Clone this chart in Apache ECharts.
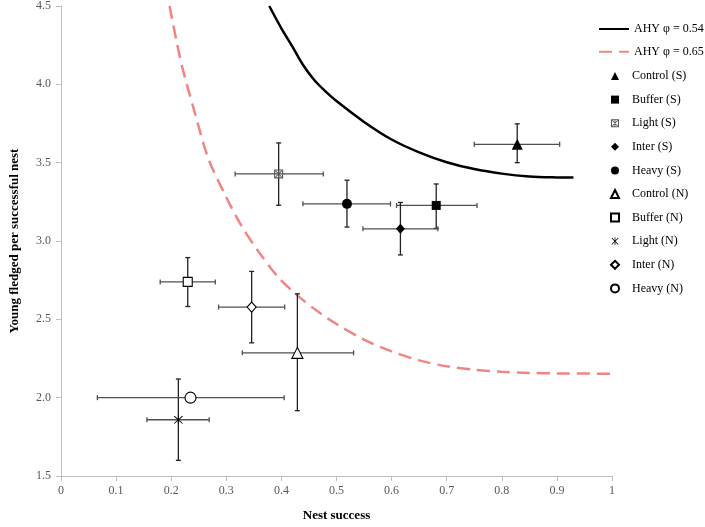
<!DOCTYPE html>
<html>
<head>
<meta charset="utf-8">
<script src="https://cdn.jsdelivr.net/npm/echarts@6/dist/echarts.min.js"></script>
<style>
html,body{margin:0;padding:0;background:#fff;}
#chart{width:705px;height:527px;}
</style>
</head>
<body>
<div id="chart"></div>
<script>
// ---- data ----
var groupNames = ['Control (S)', 'Buffer (S)', 'Light (S)', 'Inter (S)', 'Heavy (S)',
                  'Control (N)', 'Buffer (N)', 'Light (N)', 'Inter (N)', 'Heavy (N)'];
var nestSuccess = [0.828, 0.681, 0.395, 0.616, 0.519, 0.429, 0.230, 0.213, 0.346, 0.235];
var youngFledged = [3.617, 3.227, 3.428, 3.078, 3.237, 2.286, 2.739, 1.859, 2.578, 2.000];
var nestLow  = [0.750, 0.609, 0.316, 0.548, 0.439, 0.329, 0.180, 0.156, 0.286, 0.066];
var nestHigh = [0.905, 0.755, 0.476, 0.684, 0.598, 0.531, 0.280, 0.269, 0.406, 0.405];
var youngLow  = [3.500, 3.080, 3.228, 2.911, 3.089, 1.917, 2.582, 1.600, 2.350, 2.000];
var youngHigh = [3.748, 3.364, 3.626, 3.246, 3.388, 2.663, 2.894, 2.119, 2.806, 2.000];

var curve054X = [0.378, 0.40, 0.42, 0.44, 0.46, 0.48, 0.50, 0.55, 0.60, 0.65, 0.70, 0.75, 0.80, 0.85, 0.90, 0.93];
var curve054Y = [4.50, 4.357, 4.24, 4.12, 4.026, 3.955, 3.893, 3.76, 3.648, 3.566, 3.503, 3.459, 3.43, 3.412, 3.406, 3.405];
var curve065X = [0.197, 0.21, 0.22, 0.24, 0.267, 0.297, 0.327, 0.358, 0.394, 0.43, 0.47, 0.50, 0.55, 0.60, 0.65, 0.70, 0.75, 0.80, 0.85, 0.90, 1.00];
var curve065Y = [4.50, 4.27, 4.11, 3.855, 3.53, 3.30, 3.10, 2.935, 2.77, 2.65, 2.54, 2.47, 2.37, 2.295, 2.238, 2.20, 2.178, 2.165, 2.158, 2.155, 2.153];

var xTickLabels = ['0', '0.1', '0.2', '0.3', '0.4', '0.5', '0.6', '0.7', '0.8', '0.9', '1'];
var yTickLabels = ['1.5', '2.0', '2.5', '3.0', '3.5', '4.0', '4.5'];
var curveNames = ['AHY \u03c6 = 0.54', 'AHY \u03c6 = 0.65'];

// ---- styles ----
var asterisk = 'path://M4.55,0H5.45V10H4.55Z M0.6,1.25L1.25,0.6L9.4,8.75L8.75,9.4Z M8.75,0.6L9.4,1.25L1.25,9.4L0.6,8.75Z';
var starBox = 'path://M0,0H10V10H0Z M1.2,1.2V8.8H8.8V1.2Z M4.5,1H5.5V9H4.5Z M1.2,1.9L1.9,1.2L8.8,8.1L8.1,8.8Z M8.1,1.2L8.8,1.9L1.9,8.8L1.2,8.1Z';
var markerStyles = [
  {symbol: 'triangle', size: 11, color: '#000', border: '#000'},
  {symbol: 'rect', size: 9, color: '#000', border: '#000'},
  {symbol: starBox, size: 9, color: '#555', border: '#555'},
  {symbol: 'diamond', size: [9, 10], color: '#000', border: '#000'},
  {symbol: 'circle', size: 10, color: '#000', border: '#000'},
  {symbol: 'triangle', size: 11, color: '#fff', border: '#000'},
  {symbol: 'rect', size: 9, color: '#fff', border: '#000'},
  {symbol: asterisk, size: 9, color: '#000', border: '#000'},
  {symbol: 'diamond', size: [9, 10], color: '#fff', border: '#000'},
  {symbol: 'circle', size: 11, color: '#fff', border: '#000'}
];

var font = '"Liberation Serif", "Times New Roman", serif';

var series = [];
series.push({
  name: curveNames[0], type: 'line', showSymbol: false, symbol: 'none', smooth: 0.3,
  data: curve054X.map(function (x, i) { return [x, curve054Y[i]]; }),
  lineStyle: {color: '#000', width: 2.5}, itemStyle: {color: '#000'}, z: 3
});
series.push({
  name: curveNames[1], type: 'line', showSymbol: false, symbol: 'none', smooth: 0.3,
  data: curve065X.map(function (x, i) { return [x, curve065Y[i]]; }),
  lineStyle: {color: '#f08585', width: 2.5, type: [13, 7]}, itemStyle: {color: '#f08585'}, z: 3
});

// error bars
series.push({
  name: 'errors', type: 'custom', z: 4, silent: true,
  data: groupNames.map(function (n, i) {
    return [nestSuccess[i], youngFledged[i], nestLow[i], nestHigh[i], youngLow[i], youngHigh[i]];
  }),
  renderItem: function (params, api) {
    var c = api.coord([api.value(0), api.value(1)]);
    var xl = api.coord([api.value(2), api.value(1)]);
    var xh = api.coord([api.value(3), api.value(1)]);
    var yl = api.coord([api.value(0), api.value(4)]);
    var yh = api.coord([api.value(0), api.value(5)]);
    var cap = 2.5;
    var hs = {stroke: '#505050', lineWidth: 1.3};
    var vs = {stroke: '#222', lineWidth: 1.3};
    var ch = [
      {type: 'line', shape: {x1: xl[0], y1: c[1], x2: xh[0], y2: c[1]}, style: hs},
      {type: 'line', shape: {x1: xl[0], y1: c[1] - cap, x2: xl[0], y2: c[1] + cap}, style: hs},
      {type: 'line', shape: {x1: xh[0], y1: c[1] - cap, x2: xh[0], y2: c[1] + cap}, style: hs}
    ];
    if (Math.abs(yl[1] - yh[1]) > 0.5) {
      ch.push({type: 'line', shape: {x1: c[0], y1: yh[1], x2: c[0], y2: yl[1]}, style: vs});
      ch.push({type: 'line', shape: {x1: c[0] - cap, y1: yh[1], x2: c[0] + cap, y2: yh[1]}, style: vs});
      ch.push({type: 'line', shape: {x1: c[0] - cap, y1: yl[1], x2: c[0] + cap, y2: yl[1]}, style: vs});
    }
    return {type: 'group', children: ch};
  }
});

groupNames.forEach(function (n, i) {
  var m = markerStyles[i];
  series.push({
    name: n, type: 'scatter', z: 5,
    symbol: m.symbol, symbolSize: m.size,
    data: [[nestSuccess[i], youngFledged[i]]],
    itemStyle: {color: m.color, borderColor: m.border, borderWidth: (m.color === '#fff') ? 1.1 : 0, opacity: 1}
  });
});

var legendTextStyle = {fontFamily: font, fontSize: 12, color: '#000', lineHeight: 12};
var chart = echarts.init(document.getElementById('chart'), null, {renderer: 'canvas'});
chart.setOption({
  animation: false,
  backgroundColor: '#fff',
  grid: {left: 59, right: 93, top: 6, bottom: 49, containLabel: false},
  legend: [{
    orient: 'vertical', left: 593, top: 18,
    data: curveNames.map(function (n) {
      return {name: n, itemStyle: {color: 'rgba(0,0,0,0)', borderWidth: 0}};
    }),
    itemWidth: 30, itemHeight: 12, itemGap: 10.7,
    lineStyle: {width: 2},
    textStyle: legendTextStyle
  }, {
    orient: 'vertical', left: 605, top: 65,
    data: groupNames,
    itemWidth: 8, itemHeight: 8, itemGap: 11.6,
    textStyle: {fontFamily: font, fontSize: 12, color: '#000', lineHeight: 12, padding: [0, 0, 0, 8]}
  }],
  xAxis: {
    type: 'value', min: 0, max: 1, interval: 0.1,
    name: 'Nest success', nameLocation: 'middle', nameGap: 33,
    nameTextStyle: {fontFamily: font, fontSize: 13, fontWeight: 'bold', color: '#000'},
    axisLine: {show: true, lineStyle: {color: '#bfbfbf', width: 1}},
    axisTick: {show: true, length: 5, lineStyle: {color: '#bfbfbf'}},
    splitLine: {show: false},
    axisLabel: {fontFamily: font, fontSize: 12, color: '#595959', margin: 9,
      formatter: function (v) { return xTickLabels[Math.round(v * 10)]; }}
  },
  yAxis: {
    type: 'value', min: 1.5, max: 4.5, interval: 0.5,
    name: 'Young fledged per successful nest', nameLocation: 'middle', nameGap: 40,
    nameTextStyle: {fontFamily: font, fontSize: 13, fontWeight: 'bold', color: '#000'},
    axisLine: {show: true, lineStyle: {color: '#bfbfbf', width: 1}},
    axisTick: {show: true, length: 5, lineStyle: {color: '#bfbfbf'}},
    splitLine: {show: false},
    axisLabel: {fontFamily: font, fontSize: 12, color: '#595959', margin: 10,
      formatter: function (v) { return yTickLabels[Math.round((v - 1.5) * 2)]; }}
  },
  series: series
});
</script>
</body>
</html>
